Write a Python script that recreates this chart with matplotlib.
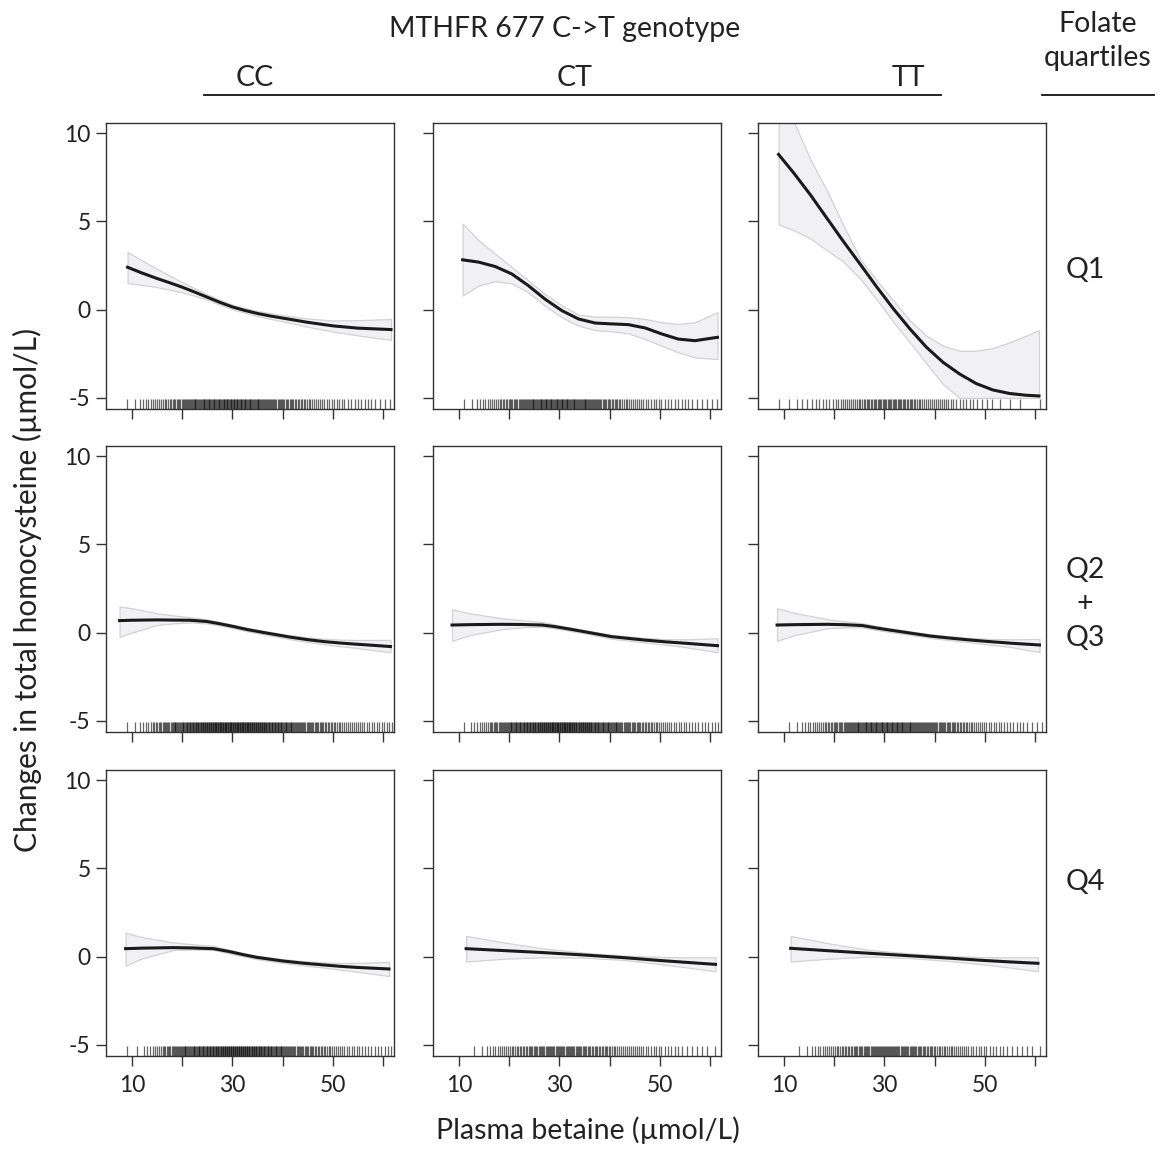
import numpy as np
import matplotlib.pyplot as plt
from matplotlib.lines import Line2D

plt.rcParams['font.family'] = ['Lato', 'DejaVu Sans']

genotypes = ['CC', 'CT', 'TT']
quartiles = ['Q1', 'Q2\n+\nQ3', 'Q4']

# spline estimates (change in tHcy): x, fit, upper, lower
# row Q1
q1_cc_x = [9.1, 12, 15, 17.5, 20, 22.5, 25, 27.5, 30, 32.5, 35, 37.5, 40, 45, 50, 55, 61.6]
q1_cc_y = [2.40, 2.07, 1.76, 1.52, 1.27, 0.99, 0.70, 0.41, 0.15, -0.05, -0.22, -0.36, -0.48, -0.72, -0.92, -1.05, -1.13]
q1_cc_hi = [3.26, 2.78, 2.30, 1.92, 1.55, 1.20, 0.86, 0.55, 0.28, 0.08, -0.08, -0.20, -0.32, -0.50, -0.62, -0.60, -0.53]
q1_cc_lo = [1.50, 1.40, 1.27, 1.13, 0.98, 0.78, 0.55, 0.28, 0.02, -0.18, -0.36, -0.52, -0.66, -0.97, -1.24, -1.46, -1.72]

q1_ct_x = [10.7, 13.9, 17.2, 20.5, 23.8, 27.1, 30.5, 33.8, 37.1, 40.4, 43.7, 47.1, 50.4, 53.7, 57.0, 61.5]
q1_ct_y = [2.82, 2.69, 2.44, 2.02, 1.36, 0.60, -0.06, -0.53, -0.76, -0.81, -0.85, -1.04, -1.38, -1.67, -1.76, -1.57]
q1_ct_hi = [4.87, 3.92, 3.16, 2.41, 1.65, 0.89, 0.23, -0.28, -0.40, -0.40, -0.43, -0.53, -0.72, -0.81, -0.72, -0.15]
q1_ct_lo = [0.80, 1.36, 1.61, 1.49, 0.98, 0.23, -0.44, -0.91, -1.16, -1.23, -1.34, -1.67, -2.05, -2.42, -2.71, -2.80]

q1_tt_x = [8.9, 12.0, 15.3, 18.6, 21.9, 25.2, 28.5, 31.8, 35.1, 38.4, 41.7, 45.0, 48.3, 51.6, 54.9, 58.2, 60.8]
q1_tt_y = [8.79, 7.71, 6.48, 5.15, 3.83, 2.56, 1.27, 0.04, -1.10, -2.14, -2.99, -3.65, -4.19, -4.55, -4.75, -4.85, -4.89]
q1_tt_hi = [12.5, 10.6, 8.47, 6.70, 4.73, 2.85, 1.65, 0.51, -0.63, -1.48, -2.05, -2.33, -2.33, -2.18, -1.86, -1.48, -1.16]
q1_tt_lo = [4.83, 4.49, 4.02, 3.35, 2.70, 1.74, 0.56, -0.70, -1.87, -3.06, -4.23, -5.0, -5.0, -5.0, -5.0, -5.0, -5.0]

# row Q2 + Q3
q23_cc_x = [7.5, 10, 14.9, 18, 21.6, 24.9, 27.5, 30.3, 33, 36.3, 41.6, 45, 48.3, 51.5, 54.9, 58, 61.5]
q23_cc_y = [0.68, 0.70, 0.72, 0.71, 0.70, 0.63, 0.50, 0.34, 0.17, 0.00, -0.26, -0.40, -0.51, -0.59, -0.66, -0.72, -0.79]
q23_cc_hi = [1.48, 1.38, 1.10, 0.98, 0.87, 0.75, 0.60, 0.44, 0.27, 0.10, -0.15, -0.27, -0.35, -0.40, -0.42, -0.42, -0.41]
q23_cc_lo = [-0.23, 0.00, 0.43, 0.52, 0.58, 0.52, 0.40, 0.24, 0.07, -0.10, -0.38, -0.53, -0.66, -0.77, -0.88, -0.99, -1.11]

q23_ct_x = [8.6, 12, 18.5, 22.5, 26.6, 29.1, 32, 34.8, 40.4, 46.9, 51, 55, 61.5]
q23_ct_y = [0.43, 0.45, 0.47, 0.46, 0.43, 0.34, 0.20, 0.06, -0.23, -0.42, -0.52, -0.60, -0.74]
q23_ct_hi = [1.32, 1.10, 0.81, 0.70, 0.60, 0.46, 0.30, 0.15, -0.12, -0.30, -0.37, -0.38, -0.32]
q23_ct_lo = [-0.47, -0.15, 0.19, 0.30, 0.33, 0.24, 0.10, -0.03, -0.35, -0.55, -0.68, -0.82, -1.11]

q23_tt_x = [8.6, 12, 18.75, 22, 25.6, 28, 30.9, 35, 39, 43, 47.1, 51, 55.2, 60.9]
q23_tt_y = [0.43, 0.45, 0.47, 0.45, 0.40, 0.28, 0.15, -0.02, -0.19, -0.31, -0.42, -0.51, -0.60, -0.70]
q23_tt_hi = [1.38, 1.12, 0.75, 0.64, 0.53, 0.40, 0.26, 0.08, -0.09, -0.20, -0.30, -0.36, -0.38, -0.36]
q23_tt_lo = [-0.47, -0.15, 0.25, 0.30, 0.30, 0.17, 0.04, -0.12, -0.30, -0.43, -0.55, -0.68, -0.82, -1.11]

# row Q4
q4_cc_x = [8.7, 12, 18.3, 22, 26.2, 29.5, 32, 34.8, 40.1, 44, 48.1, 51.5, 54.7, 61.2]
q4_cc_y = [0.45, 0.48, 0.51, 0.49, 0.45, 0.28, 0.12, -0.04, -0.25, -0.37, -0.47, -0.55, -0.61, -0.70]
q4_cc_hi = [1.36, 1.10, 0.80, 0.70, 0.61, 0.38, 0.22, 0.06, -0.15, -0.25, -0.33, -0.36, -0.36, -0.30]
q4_cc_lo = [-0.51, -0.10, 0.38, 0.40, 0.38, 0.18, 0.02, -0.14, -0.36, -0.50, -0.62, -0.74, -0.85, -1.10]

q4_ct_x = [11.4, 19, 26.6, 35, 42.9, 50, 55, 61.1]
q4_ct_y = [0.45, 0.34, 0.23, 0.09, -0.06, -0.22, -0.32, -0.44]
q4_ct_hi = [1.17, 0.80, 0.47, 0.22, 0.06, -0.02, -0.04, -0.04]
q4_ct_lo = [-0.28, -0.12, -0.04, -0.06, -0.19, -0.42, -0.60, -0.83]

q4_tt_x = [11.3, 19, 26.9, 35, 43.1, 50, 55, 60.6]
q4_tt_y = [0.47, 0.33, 0.19, 0.05, -0.09, -0.22, -0.30, -0.38]
q4_tt_hi = [1.17, 0.75, 0.38, 0.18, 0.04, -0.03, -0.04, -0.04]
q4_tt_lo = [-0.28, -0.12, 0.00, -0.08, -0.25, -0.45, -0.62, -0.83]

# rug: approx. number of observations per 2 umol/L bin (6-8, 8-10, ..., 60-62)
rug_bins = list(range(6, 62, 2))
rug_q1_cc = [0, 1, 2, 4, 5, 6, 8, 10, 11, 12, 12, 13, 13, 12, 11, 10, 9, 8, 7, 6, 5, 4, 4, 3, 3, 3, 2, 2]
rug_q1_ct = [0, 0, 1, 2, 4, 5, 7, 8, 10, 11, 12, 12, 12, 11, 11, 10, 8, 7, 6, 5, 4, 4, 3, 3, 3, 2, 2, 2]
rug_q1_tt = [0, 1, 1, 2, 2, 3, 3, 4, 5, 6, 7, 8, 8, 8, 7, 6, 5, 5, 4, 3, 3, 2, 2, 1, 1, 1, 0, 1]
rug_q23_cc = [0, 1, 2, 4, 7, 9, 11, 13, 14, 15, 16, 16, 16, 16, 15, 14, 13, 12, 10, 9, 8, 7, 6, 5, 5, 4, 4, 4]
rug_q23_ct = [0, 0, 1, 3, 5, 8, 10, 12, 13, 14, 15, 16, 16, 15, 15, 13, 12, 11, 9, 8, 7, 6, 5, 4, 4, 3, 3, 3]
rug_q23_tt = [0, 0, 1, 2, 4, 5, 7, 8, 10, 11, 12, 12, 12, 12, 11, 10, 10, 9, 8, 7, 6, 5, 4, 4, 3, 3, 2, 2]
rug_q4_cc = [0, 1, 1, 3, 5, 8, 10, 11, 12, 13, 14, 15, 15, 15, 14, 13, 12, 10, 9, 8, 7, 6, 5, 4, 4, 3, 3, 3]
rug_q4_ct = [0, 0, 0, 1, 2, 4, 5, 6, 7, 8, 9, 9, 9, 9, 8, 7, 7, 6, 5, 5, 4, 4, 3, 3, 2, 2, 2, 1]
rug_q4_tt = [0, 0, 0, 1, 2, 4, 5, 6, 7, 8, 9, 10, 10, 9, 9, 8, 7, 6, 6, 5, 4, 4, 3, 3, 2, 2, 2, 1]

panels = [
    [(q1_cc_x, q1_cc_y, q1_cc_hi, q1_cc_lo, rug_q1_cc),
     (q1_ct_x, q1_ct_y, q1_ct_hi, q1_ct_lo, rug_q1_ct),
     (q1_tt_x, q1_tt_y, q1_tt_hi, q1_tt_lo, rug_q1_tt)],
    [(q23_cc_x, q23_cc_y, q23_cc_hi, q23_cc_lo, rug_q23_cc),
     (q23_ct_x, q23_ct_y, q23_ct_hi, q23_ct_lo, rug_q23_ct),
     (q23_tt_x, q23_tt_y, q23_tt_hi, q23_tt_lo, rug_q23_tt)],
    [(q4_cc_x, q4_cc_y, q4_cc_hi, q4_cc_lo, rug_q4_cc),
     (q4_ct_x, q4_ct_y, q4_ct_hi, q4_ct_lo, rug_q4_ct),
     (q4_tt_x, q4_tt_y, q4_tt_hi, q4_tt_lo, rug_q4_tt)],
]

W, H = 1160, 1152
fig = plt.figure(figsize=(W / 100, H / 100), dpi=100)

col_left = [106, 433, 758]
row_top = [123, 446, 770]
pw, ph = 288, 286
edge = '#333333'
txt = '#222222'
fs = 20.5

for r in range(3):
    for c in range(3):
        ax = fig.add_axes([col_left[c] / W, 1 - (row_top[r] + ph) / H, pw / W, ph / H])
        x, y, hi, lo, rug = panels[r][c]
        ax.fill_between(x, lo, hi, facecolor='#f1f1f3', edgecolor='#d2d2d2', lw=0.9, zorder=1)
        ax.plot(x, y, color='#1a1a1a', lw=2.2, solid_joinstyle='round', zorder=3)

        # rug marks along the bottom
        for b, n in zip(rug_bins, rug):
            if n == 0:
                continue
            pos = [b + (k + 0.5) * 2.0 / n for k in range(n)]
            ax.vlines(pos, 0, 0.036, transform=ax.get_xaxis_transform(),
                      color='black', alpha=0.6, lw=0.9, zorder=2)

        ax.set_xlim(4.8, 62.2)
        ax.set_ylim(-5.63, 10.57)
        ax.set_xticks([10, 20, 30, 40, 50, 60])
        ax.set_yticks([-5, 0, 5, 10])
        ax.tick_params(direction='out', length=7, width=1, color=edge,
                       labelsize=16.5, labelcolor=txt, pad=4)
        ax.tick_params(axis='x', pad=7)
        ax.set_xticklabels(['10', '', '30', '', '50', ''])
        ax.set_yticklabels(['-5', '0', '5', '10'])
        if c > 0:
            ax.tick_params(axis='y', labelleft=False)
        if r < 2:
            ax.tick_params(axis='x', labelbottom=False)
        for s in ax.spines.values():
            s.set_color(edge)
            s.set_linewidth(1.0)

# headers
fig.text(565 / W, 1 - 29 / H, 'MTHFR 677 C->T genotype', ha='center', va='center', fontsize=fs, color=txt)
for g, gx in zip(genotypes, [255, 575, 908]):
    fig.text(gx / W, 1 - 78 / H, g, ha='center', va='center', fontsize=fs, color=txt)
fig.add_artist(Line2D([204 / W, 941 / W], [1 - 95 / H] * 2, color='#111111', lw=1.3))
fig.add_artist(Line2D([1042 / W, 1154 / W], [1 - 95 / H] * 2, color='#111111', lw=1.3))
fig.text(1098 / W, 1 - 41 / H, 'Folate\nquartiles', ha='center', va='center', fontsize=fs,
         color=txt, linespacing=1.42)

for q, qy in zip(quartiles, [270, 604, 882]):
    fig.text(1085 / W, 1 - qy / H, q, ha='center', va='center', fontsize=fs,
             color=txt, linespacing=1.38)

fig.text(27 / W, 1 - 590 / H, 'Changes in total homocysteine (µmol/L)', rotation=90,
         ha='center', va='center', fontsize=21.5, color=txt)
fig.text(588 / W, 1 - 1130 / H, 'Plasma betaine (µmol/L)', ha='center', va='center',
         fontsize=fs, color=txt)

fig.savefig('out.png', dpi=100)
